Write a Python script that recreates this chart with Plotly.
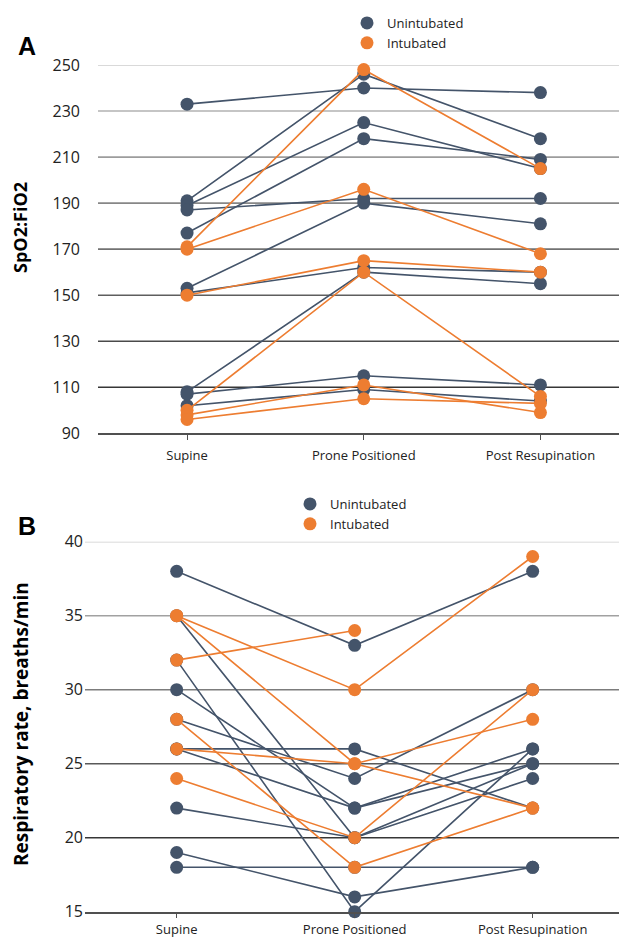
import plotly.graph_objects as go

# ---------------- data ----------------
stages = ["Supine", "Prone Positioned", "Post Resupination"]
stage_pos = [0, 1, 2]

# Panel A: SpO2:FiO2 per patient (supine, prone, post resupination)
spo2_unintubated = [
    [233, 240, 238],
    [191, 246, 218],
    [189, 225, 205],
    [177, 218, 209],
    [187, 192, 192],
    [153, 190, 181],
    [151, 162, 160],
    [108, 160, 155],
    [107, 115, 111],
    [102, 109, 104],
]
spo2_intubated = [
    [171, 248, 205],
    [170, 196, 168],
    [150, 165, 160],
    [100, 160, 106],
    [98, 111, 99],
    [96, 105, 103],
]
spo2_ticks = [90, 110, 130, 150, 170, 190, 210, 230, 250]

# Panel B: respiratory rate per patient
rr_unintubated = [
    [38, 33, 38],
    [35, 20, 25],
    [32, 15, 26],
    [30, 22, 26],
    [28, 24, 30],
    [26, 26, 22],
    [26, 22, 25],
    [22, 20, 24],
    [19, 16, 18],
    [18, 18, 18],
]
rr_intubated = [
    [32, 34, None],
    [35, 30, 39],
    [35, 25, 22],
    [26, 25, 28],
    [24, 20, 30],
    [28, 18, 22],
]
rr_ticks = [15, 20, 25, 30, 35, 40]

# ---------------- style ----------------
BLUE = "#44546A"
ORANGE = "#ED7D31"
W, H = 627, 940
OFF = 8  # page body margin: figure origin sits at (8, 8) on screen
FONT = "Open Sans"

fig = go.Figure()


def add_group(rows, color, xa, ya):
    for r in rows:
        fig.add_trace(go.Scatter(
            x=stage_pos, y=r, mode="lines+markers",
            line=dict(color=color, width=1.6),
            marker=dict(color=color, size=13),
            showlegend=False, cliponaxis=False, connectgaps=False,
            xaxis=xa, yaxis=ya, hoverinfo="skip"))


add_group(spo2_unintubated, BLUE, "x", "y")
add_group(spo2_intubated, ORANGE, "x", "y")
add_group(rr_unintubated, BLUE, "x2", "y2")
add_group(rr_intubated, ORANGE, "x2", "y2")

# legend entries
for name, color in (("Unintubated", BLUE), ("Intubated", ORANGE)):
    fig.add_trace(go.Scatter(x=[None], y=[None], mode="markers", name=name,
                             marker=dict(color=color, size=13),
                             xaxis="x", yaxis="y", legend="legend"))
    fig.add_trace(go.Scatter(x=[None], y=[None], mode="markers", name=name,
                             marker=dict(color=color, size=13),
                             xaxis="x2", yaxis="y2", legend="legend2"))


def px_x(s):
    return (s - OFF) / W


def px_y(s):
    return 1 - (s - OFF) / H


def grey(t):
    # t=0 light, t=1 dark
    a = (205, 205, 205)
    b = (55, 55, 55)
    c = [int(a[i] + (b[i] - a[i]) * t) for i in range(3)]
    return "rgb(%d,%d,%d)" % tuple(c)


shapes = []
for ticks, xa, ya in ((spo2_ticks, "x", "y"), (rr_ticks, "x2", "y2")):
    n = len(ticks)
    for i, v in enumerate(ticks):
        if i == 0:
            continue
        t = (n - 1 - i) / (n - 2) if n > 2 else 0
        shapes.append(dict(type="line", xref=xa + " domain", yref=ya,
                           x0=0, x1=1, y0=v, y1=v, layer="below",
                           line=dict(color=grey(t ** 0.9), width=1.6)))

axis_x = dict(tickvals=stage_pos, ticktext=stages, showgrid=False, zeroline=False,
              showline=True, linecolor="#505050", linewidth=2, ticks="outside",
              ticklen=5, tickcolor="#505050", tickfont=dict(size=13, color="#222222", family=FONT),
              ticklabelstandoff=4, fixedrange=True, automargin=False)
axis_y = dict(showgrid=False, zeroline=False, showline=False, ticks="",
              tickfont=dict(size=16, color="#222222", family=FONT), fixedrange=True,
              automargin=False)

fig.update_layout(
    template="none",
    width=W, height=H,
    margin=dict(l=0, r=0, t=0, b=0, pad=0),
    paper_bgcolor="white", plot_bgcolor="white",
    font=dict(family=FONT, color="#222222"),
    xaxis=dict(axis_x, domain=[px_x(98), px_x(627)], range=[-0.504, 2.49], anchor="y"),
    yaxis=dict(axis_y, domain=[px_y(433.3), px_y(65)], range=[90, 250],
               tickvals=spo2_ticks, ticklabelstandoff=17, anchor="x"),
    xaxis2=dict(axis_x, domain=[px_x(85), px_x(627)], range=[-0.515, 2.53], anchor="y2",
                ticklabelstandoff=1, ticklen=4),
    yaxis2=dict(axis_y, domain=[px_y(911.7), px_y(541.7)], range=[15, 40],
                tickvals=rr_ticks, ticklabelstandoff=1, anchor="x2"),
    shapes=shapes,
    legend=dict(x=px_x(347), y=px_y(8), xanchor="left", yanchor="top",
                font=dict(size=13, family=FONT, color="#222222"),
                bgcolor="rgba(0,0,0,0)", tracegroupgap=0, itemwidth=30),
    legend2=dict(x=px_x(290), y=px_y(489), xanchor="left", yanchor="top",
                 font=dict(size=13, family=FONT, color="#222222"),
                 bgcolor="rgba(0,0,0,0)", tracegroupgap=0, itemwidth=30),
    annotations=[
        dict(text="<b>A</b>", x=px_x(16), y=px_y(46), xref="paper", yref="paper",
             xanchor="left", yanchor="middle", showarrow=False,
             font=dict(size=25, family="Liberation Sans", color="#000000")),
        dict(text="<b>B</b>", x=px_x(16), y=px_y(526), xref="paper", yref="paper",
             xanchor="left", yanchor="middle", showarrow=False,
             font=dict(size=25, family="Liberation Sans", color="#000000")),
        dict(text="<b>SpO2:FiO2</b>", x=px_x(20), y=px_y(228), xref="paper", yref="paper",
             xanchor="center", yanchor="middle", showarrow=False, textangle=-90,
             font=dict(size=18, family=FONT, color="#000000")),
        dict(text="<b>Respiratory rate, breaths/min</b>", x=px_x(21), y=px_y(724),
             xref="paper", yref="paper", xanchor="center", yanchor="middle",
             showarrow=False, textangle=-90,
             font=dict(size=19, family=FONT, color="#000000")),
    ],
)

fig.write_html("out.html")
